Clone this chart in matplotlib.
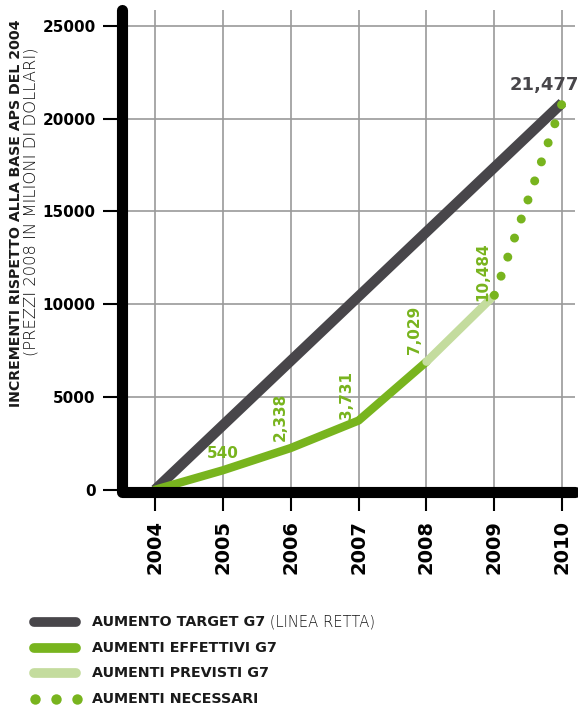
import numpy as np
import matplotlib.pyplot as plt
from matplotlib.lines import Line2D

anni = [2004, 2005, 2006, 2007, 2008, 2009, 2010]

# aumento target G7 (linea retta)
target_x = [2004, 2010]
target_y = [0, 20850]

# aumenti effettivi G7
effettivi_x = [2004, 2005, 2006, 2007, 2008]
effettivi_y = [0, 1050, 2250, 3731, 6900]

# aumenti previsti G7
previsti_x = [2008, 2009]
previsti_y = [6900, 10484]

# aumenti necessari
necessari_x = [2009, 2010]
necessari_y = [10484, 20850]

etichette = ["540", "2,338", "3,731", "7,029", "10,484"]
etichette_x = [2005.0, 2005.85, 2006.82, 2007.82, 2008.83]
etichette_y = [1980, 3920, 5120, 8610, 11740]
etichette_rot = [0, 90, 90, 90, 90]

scuro = "#48464a"
verde = "#78b41e"
verde_chiaro = "#c4dc9e"
testo = "#1a1a1a"

plt.rcParams['font.family'] = ['DejaVu Sans']

fig = plt.figure(figsize=(5.78, 7.08), dpi=100)
ax = fig.add_axes([0.211, 0.305, 0.784, 0.681])

ax.set_xlim(2003.513, 2010.19)
ax.set_ylim(-124, 25860)

ax.grid(True, color="#9a9a9a", linewidth=1.2, zorder=0)
for s in ax.spines.values():
    s.set_visible(False)

# assi spessi con angolo arrotondato
ax.add_line(Line2D([0, 0, 1], [1, 0, 0], transform=ax.transAxes, color="black",
                   linewidth=8, solid_capstyle="round", solid_joinstyle="round",
                   clip_on=False, zorder=6))

ax.set_xticks(anni)
ax.set_xticklabels([str(a) for a in anni], rotation=90, fontsize=14, fontweight="heavy")
ax.set_yticks([0, 5000, 10000, 15000, 20000, 25000])
ax.set_yticklabels(["0", "5000", "10000", "15000", "20000", "25000"], fontsize=11, fontweight="heavy")
ax.tick_params(axis="both", length=14, width=1.5, color="black")
ax.tick_params(axis="x", pad=6)
ax.tick_params(axis="y", pad=5)

ax.plot(target_x, target_y, color=scuro, linewidth=7.5, solid_capstyle="butt", zorder=3)
ax.plot(effettivi_x, effettivi_y, color=verde, linewidth=6, solid_capstyle="round",
        solid_joinstyle="round", zorder=4)
ax.plot(previsti_x, previsti_y, color=verde_chiaro, linewidth=6, solid_capstyle="round", zorder=4)
punti, = ax.plot(necessari_x, necessari_y, color=verde, linewidth=6.5,
                 dash_capstyle="round", zorder=5, clip_on=False)

# passo dei puntini: 10 intervalli lungo il segmento
fig.canvas.draw()
p = ax.transData.transform(np.column_stack([necessari_x, necessari_y]))
lung_pt = np.hypot(*(p[1] - p[0])) * 72 / fig.dpi
punti.set_linestyle((0, (0.001, lung_pt / 10 / 6.5 * 0.99)))

for t, x, y, r in zip(etichette, etichette_x, etichette_y, etichette_rot):
    ax.text(x, y, t, color=verde, fontsize=11, fontweight="bold", rotation=r,
            ha="center", va="center", zorder=6)
ax.text(2010.24, 21800, "21,477", color=scuro, fontsize=13, fontweight="bold",
        ha="right", va="center", zorder=6, clip_on=False)

# titolo asse y
fig.text(16 / 578, 1 - 213 / 708, "INCREMENTI RISPETTO ALLA BASE APS DEL 2004",
         rotation=90, fontsize=10.2, fontweight="bold", ha="center", va="center", color=testo)
fig.text(31.5 / 578, 1 - 202 / 708, "(PREZZI 2008 IN MILIONI DI DOLLARI)",
         rotation=90, fontsize=11.8, fontweight="light", ha="center", va="center",
         color="#111111")

# legenda
voci = [
    ("AUMENTO TARGET G7", " (LINEA RETTA)", scuro, "-"),
    ("AUMENTI EFFETTIVI G7", "", verde, "-"),
    ("AUMENTI PREVISTI G7", "", verde_chiaro, "-"),
    ("AUMENTI NECESSARI", "", verde, ":"),
]
righe_y = [622, 648, 673, 699]
for (forte, leggero, col, stile), py in zip(voci, righe_y):
    yf = 1 - py / 708
    if stile == "-":
        fig.add_artist(Line2D([34 / 578, 76 / 578], [yf, yf], color=col, linewidth=7,
                              solid_capstyle="round"))
    else:
        fig.add_artist(Line2D([35 / 578, 56 / 578, 77 / 578], [yf, yf, yf], color=col,
                              linestyle="none", marker="o", markersize=7.5,
                              markeredgewidth=0))
    t = fig.text(92 / 578, yf, forte, fontsize=10.3, fontweight="bold", va="center", color=testo)
    if leggero:
        fig.canvas.draw()
        bb = t.get_window_extent()
        fig.text(bb.x1 / fig.bbox.width, yf, leggero, fontsize=10.6, fontweight="light",
                 va="center", color="#111111")

fig.savefig("out.png", dpi=100)
